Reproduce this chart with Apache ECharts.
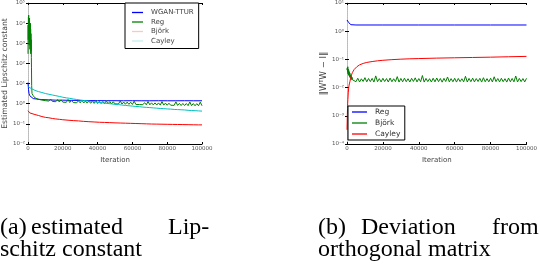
<!DOCTYPE html>
<html><head><meta charset="utf-8">
<script src="https://cdn.jsdelivr.net/npm/echarts@6/dist/echarts.min.js"></script>
<style>html,body{margin:0;padding:0;background:#fff}#c{width:540px;height:268px}</style>
</head><body><div id="c"></div>
<script>
// ---------- data: left chart (estimated Lipschitz constant) ----------
const xTicksA = [0, 20000, 40000, 60000, 80000, 100000];
const yTicksA = [0.01, 0.1, 1, 10, 100, 1000, 10000, 100000];
const wganIters = [0,300,600,1000,1500,2000,3000,5000,8000,12000,16000,20000,25000,30000,35000,40000,45000,50000,55000,60000,65000,70000,75000,80000,85000,90000,95000,100000];
const wganVals  = [11.2,5.0,3.2,2.5,2.2,2.0,1.8,1.7,1.6,1.55,1.5,1.5,1.47,1.45,1.43,1.42,1.41,1.41,1.4,1.41,1.4,1.4,1.41,1.4,1.4,1.41,1.4,1.4];
const regSpikeIters = [0,80,160,240,320,400,480,560,640,720,800,880,960,1040,1120,1200,1280,1360,1440,1520,1600,1680,1760,1840,1920,2000,2100,2300,2600];
const regSpikeVals  = [300,8000,1500,20000,3000,25000,2000,12000,800,15000,4000,18000,1200,9000,500,6000,2500,10000,700,5000,300,3000,400,1500,200,60,8,3.2,2.7];
const regTailVals = [2.5,1.95,2.15,1.65,1.98,1.52,1.85,1.42,1.74,1.35,1.7,1.3,1.62,1.26,1.6,1.22,1.55,1.2,1.5,1.17,
  1.6,1.15,1.45,1.14,1.43,1.11,1.41,1.1,1.52,1.08,1.37,1.07,1.36,1.05,1.33,1.04,1.45,1.03,1.3,1.02,
  1.29,1.01,1.4,0.99,1.27,0.98,1.25,0.98,1.23,0.97,1.38,0.96,1.21,0.94,1.2,0.93,1.19,0.92,1.34,0.92,
  1.15,0.91,1.14,0.89,1.13,0.88,1.3,0.88,1.11,0.87,1.1,0.86,1.1,0.85,1.28,0.85,1.07,0.84,1.06,0.84,
  1.05,0.83,1.24,0.82,1.04,0.81,1.03,0.81,1.02,0.8,1.22,0.8,1.02,0.79,1.01,0.79,1.2,0.79]; // iterations 3000..100000 step 1000
const bjorkIters = [0,500,1000,2000,4000,6000,8000,10000,12000,14000,16000,18000,20000,23000,26000,29000,32000,35000,38000,41000,44000,47000,50000,53000,56000,59000,62000,65000,68000,71000,74000,77000,80000,83000,86000,89000,92000,95000,98000,100000];
const bjorkVals  = [0.45,0.38,0.35,0.32,0.29,0.26,0.23,0.21,0.2,0.185,0.175,0.168,0.16,0.152,0.145,0.14,0.133,0.128,0.124,0.12,0.118,0.115,0.112,0.11,0.108,0.106,0.104,0.102,0.1,0.098,0.097,0.096,0.095,0.094,0.093,0.092,0.091,0.09,0.089,0.089];
const cayleyAVals = [7.0,5.6,4.6,4.0,3.6,3.2,2.95,2.7,2.5,2.3,2.1,1.95,1.85,1.72,1.62,1.52,1.45,1.38,1.3,1.24,
  1.18,1.12,1.07,1.02,0.98,0.93,0.9,0.86,0.82,0.79,0.76,0.73,0.71,0.68,0.66,0.64,0.62,0.6,0.58,0.57,
  0.55,0.54,0.52,0.51,0.5,0.49,0.47,0.46,0.45,0.44,0.43]; // iterations 0..100000 step 2000

// ---------- data: right chart (deviation from orthogonal matrix) ----------
const xTicksB = [0, 20000, 40000, 60000, 80000, 100000];
const yTicksB = [0.0001, 0.001, 0.01, 0.1, 1, 10];
const regBIters = [0,500,1000,1500,2200,5000,20000,40000,60000,80000,100000];
const regBVals  = [2.5,2.2,2.0,1.85,1.7,1.66,1.66,1.66,1.66,1.66,1.66];
const bjorkBEarlyIters = [0,150,300,450,600,750,900,1050,1200,1350,1500,1650,1800,1950,2100,2250,2400,2550,2700,2850,3000];
const bjorkBEarlyVals  = [0.042,0.05,0.035,0.055,0.03,0.045,0.028,0.04,0.026,0.035,0.024,0.032,0.022,0.028,0.021,0.026,0.02,0.024,0.019,0.023,0.019];
const bjorkBTailVals = [0.021,0.0162,0.0215,0.0158,0.0205,0.0165,0.0225,0.016,0.021,0.0163,
  0.0212,0.0157,0.026,0.0162,0.0208,0.0159,0.0214,0.0164,0.0209,0.0158,
  0.0218,0.0161,0.0206,0.0163,0.0245,0.0157,0.0211,0.016,0.0216,0.0162,
  0.0207,0.0158,0.0213,0.0165,0.0222,0.0159,0.0209,0.0161,0.0268,0.0157,
  0.0212,0.0163,0.0207,0.0158,0.0215,0.016,0.0219,0.0162,0.021,0.0156,
  0.0213,0.0164,0.0238,0.0159,0.0208,0.0161,0.0214,0.0157,0.0211,0.0163,
  0.0206,0.016,0.0252,0.0158,0.0212,0.0162,0.0217,0.0159,0.0209,0.0164,
  0.0213,0.0157,0.0224,0.0161,0.0208,0.016,0.0215,0.0158,0.0242,0.0163,
  0.021,0.0159,0.0214,0.0162,0.0207,0.0157,0.0218,0.0161,0.0211,0.016,
  0.0258,0.0158,0.0212,0.0163,0.0209,0.0159,0.0213]; // iterations 4000..100000 step 1000
const cayleyBIters = [0,100,200,300,400,500,700,1000,1300,1600,2000,2500,3000,4000,5500,7000,9000,11000,14000,17000,20000,25000,30000,35000,40000,50000,60000,70000,80000,90000,100000];
const cayleyBVals  = [0.00032,0.0006,0.0011,0.0018,0.0028,0.0038,0.0065,0.0105,0.0135,0.016,0.021,0.028,0.034,0.044,0.055,0.064,0.072,0.078,0.084,0.089,0.093,0.098,0.102,0.105,0.107,0.111,0.114,0.117,0.12,0.124,0.128];

const legendA = ['WGAN-TTUR', 'Reg', 'Björk', 'Cayley'];
const legendB = ['Reg ', 'Björk ', 'Cayley '];
const captionA1 = ['(a)', 'estimated', 'Lip-'];
const captionA2 = 'schitz constant';
const captionB1 = ['(b)', 'Deviation', 'from'];
const captionB2 = 'orthogonal matrix';

// ---------- helpers ----------
function range(start, step, n) { const a = []; for (let i = 0; i < n; i++) a.push(start + i * step); return a; }
function pairs(xs, ys) { return xs.map((x, i) => [x, ys[i]]); }
const SUP = {'-':'⁻','0':'⁰','1':'¹','2':'²','3':'³','4':'⁴','5':'⁵','6':'⁶','7':'⁷','8':'⁸','9':'⁹'};
function powLabel(v) { const e = Math.round(Math.log10(v)); return '10' + String(e).split('').map(c => SUP[c]).join(''); }

const regData = pairs(regSpikeIters, regSpikeVals).concat(pairs(range(3000, 1000, regTailVals.length), regTailVals));
const cayleyAData = pairs(range(0, 2000, cayleyAVals.length), cayleyAVals);
const bjorkBData = pairs(bjorkBEarlyIters, bjorkBEarlyVals).concat(pairs(range(4000, 1000, bjorkBTailVals.length), bjorkBTailVals));

const lblFont = {fontFamily: 'DejaVu Sans', fontSize: 5.5, color: '#555'};
function xAx(grid, ticks, top) {
  return {
    type: 'value', gridIndex: grid, position: top ? 'top' : 'bottom',
    min: ticks[0], max: ticks[ticks.length - 1], interval: ticks[1] - ticks[0],
    axisLine: {show: true, lineStyle: {color: '#000', width: 1}},
    axisTick: {show: true, inside: true, length: 2, lineStyle: {color: '#000'}},
    axisLabel: {show: !top, ...lblFont, margin: 2, formatter: v => String(v)},
    splitLine: {show: false},
    name: top ? '' : 'Iteration', nameLocation: 'middle', nameGap: 7,
    nameTextStyle: {fontFamily: 'DejaVu Sans', fontSize: 7, color: '#444'}
  };
}
function yAx(grid, ticks, right, title, gap, nameSize) {
  return {
    type: 'log', logBase: 10, gridIndex: grid, position: right ? 'right' : 'left',
    min: ticks[0], max: ticks[ticks.length - 1], interval: 1, splitNumber: ticks.length - 1,
    axisLine: {show: true, lineStyle: {color: right ? '#bbb' : '#ccc', width: 1, type: right ? 'dotted' : 'solid'}},
    axisTick: {show: true, inside: true, length: 2, lineStyle: {color: '#000'}},
    axisLabel: {show: !right, ...lblFont, margin: 3, formatter: powLabel, showMinLabel: true, showMaxLabel: true},
    splitLine: {show: false},
    name: right ? '' : title, nameLocation: 'middle', nameGap: gap, nameRotate: 90,
    nameTextStyle: {fontFamily: 'DejaVu Sans', fontSize: nameSize || 7, color: '#444'}
  };
}
function line(name, data, color, xi, yi) {
  return {name, type: 'line', data, xAxisIndex: xi, yAxisIndex: yi, showSymbol: false, symbol: 'none',
    lineStyle: {color, width: 1}, itemStyle: {color}, animation: false, silent: true};
}

const capFont = {fontFamily: 'Liberation Serif', fontSize: 24, fill: '#000'};
function cap(text, x, y) { return {type: 'text', left: x, top: y, style: {text, ...capFont}}; }

const legendText = {fontFamily: 'DejaVu Sans', fontSize: 7, color: '#444', padding: [0, 0, 0, 3]};
const chart = echarts.init(document.getElementById('c'), null, {renderer: 'canvas'});
chart.setOption({
  animation: false,
  grid: [
    {left: 20, top: 3, width: 182, height: 141},
    {left: 347, top: 3, width: 183, height: 141}
  ],
  xAxis: [xAx(0, xTicksA, false), xAx(0, xTicksA, true), xAx(1, xTicksB, false), xAx(1, xTicksB, true)],
  yAxis: [yAx(0, yTicksA, false, 'Estimated Lipschitz constant', 12, 7.7), yAx(0, yTicksA, true),
          yAx(1, yTicksB, false, '‖WᵀW − I‖', 14, 8.5), yAx(1, yTicksB, true)],
  legend: [
    {data: [
       {name: legendA[0], itemStyle: {color: '#0000ff'}},
       {name: legendA[1], itemStyle: {color: '#008000'}},
       {name: legendA[2], itemStyle: {color: '#ffc4c4'}},
       {name: legendA[3], itemStyle: {color: '#c4eeee'}}],
     orient: 'vertical', left: 125, top: 3, icon: 'rect', itemWidth: 11, itemHeight: 1.3, itemGap: 2.5,
     padding: [6, 5, 4, 7], borderColor: '#000', borderWidth: 1, backgroundColor: '#fff',
     textStyle: legendText, selectedMode: false},
    {data: [
       {name: legendB[0], itemStyle: {color: '#0000ff'}},
       {name: legendB[1], itemStyle: {color: '#008000'}},
       {name: legendB[2], itemStyle: {color: '#ff0000'}}],
     orient: 'vertical', left: 348, top: 106, icon: 'rect', itemWidth: 15, itemHeight: 1.3, itemGap: 3,
     padding: [2, 2, 2, 4], borderColor: '#000', borderWidth: 1, backgroundColor: '#fff',
     textStyle: {...legendText, fontSize: 7.5, color: '#333'}, selectedMode: false}
  ],
  series: [
    line(legendA[0], pairs(wganIters, wganVals), '#0000ff', 0, 0),
    line(legendA[1], regData, '#008000', 0, 0),
    line(legendA[2], pairs(bjorkIters, bjorkVals), '#ff0000', 0, 0),
    line(legendA[3], cayleyAData, '#00c0c0', 0, 0),
    line(legendB[0], pairs(regBIters, regBVals), '#0000ff', 2, 2),
    line(legendB[1], bjorkBData, '#008000', 2, 2),
    line(legendB[2], pairs(cayleyBIters, cayleyBVals), '#ff0000', 2, 2)
  ],
  graphic: [
    cap(captionA1[0], 0, 216), cap(captionA1[1], 31, 216), cap(captionA1[2], 168, 216),
    cap(captionA2, 0, 238),
    cap(captionB1[0], 318, 216), cap(captionB1[1], 361, 216), cap(captionB1[2], 492, 216),
    cap(captionB2, 318, 238)
  ]
});
</script></body></html>
